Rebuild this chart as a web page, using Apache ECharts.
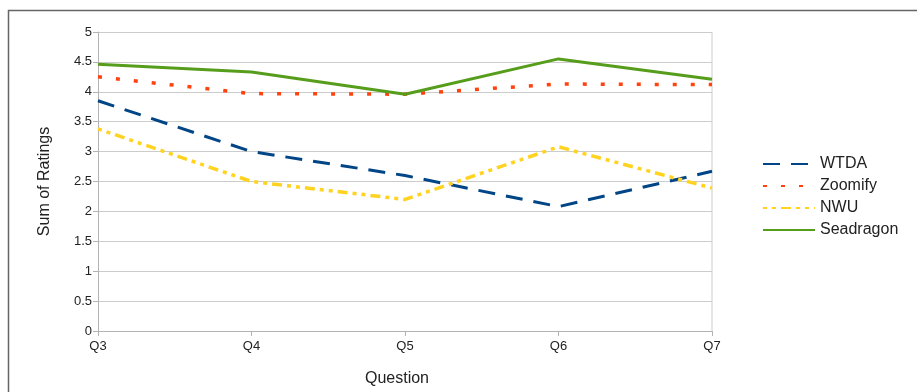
<!DOCTYPE html>
<html lang="en">
<head>
    <meta charset="UTF-8">
    <title>Sum of Ratings</title>
    <style>
        html, body { margin: 0; padding: 0; background: #fff; }
    </style>
</head>
<body>
    <div id="main" style="width: 917px; height: 392px"></div>
    <script src="https://cdn.jsdelivr.net/npm/echarts@6/dist/echarts.min.js"></script>
    <script type="text/javascript">
        var questions = ['Q3', 'Q4', 'Q5', 'Q6', 'Q7'];
        var wtda = [3.85, 3.0, 2.6, 2.08, 2.67];
        var zoomify = [4.25, 3.97, 3.96, 4.13, 4.12];
        var nwu = [3.38, 2.5, 2.2, 3.08, 2.39];
        var seadragon = [4.46, 4.33, 3.96, 4.55, 4.21];
        var yTicks = [0, 0.5, 1, 1.5, 2, 2.5, 3, 3.5, 4, 4.5, 5];

        var font = 'Liberation Sans, Arial, sans-serif';
        var myChart = echarts.init(document.getElementById('main'));

        function line(name, data, color, type, width) {
            return {
                name: name,
                type: 'line',
                data: data,
                symbol: 'none',
                lineStyle: { color: color, width: width, type: type, cap: 'butt' },
                itemStyle: { color: color },
                emphasis: { disabled: true },
                animation: false
            };
        }

        var option = {
            backgroundColor: '#fff',
            graphic: [{
                type: 'rect',
                shape: { x: 8.5, y: 10.5, width: 1000, height: 500 },
                style: { fill: 'none', stroke: '#666', lineWidth: 1.5 },
                silent: true
            }],
            grid: { left: 98, right: 205, top: 32, bottom: 61, outerBoundsMode: 'none' },
            legend: {
                orient: 'vertical',
                left: 762,
                top: 156,
                padding: 0,
                itemWidth: 52,
                itemHeight: 14,
                itemGap: 6,
                itemStyle: { color: 'rgba(0,0,0,0)', borderWidth: 0, opacity: 0 },
                textStyle: { fontFamily: font, fontSize: 16, color: '#222' },
                data: ['WTDA', 'Zoomify', 'NWU', 'Seadragon']
            },
            xAxis: {
                type: 'category',
                boundaryGap: false,
                data: questions,
                name: 'Question',
                nameLocation: 'middle',
                nameGap: 40,
                nameTextStyle: { fontFamily: font, fontSize: 16, color: '#222', padding: [0, 16, 0, 0] },
                axisLine: { lineStyle: { color: '#b3b3b3' } },
                axisTick: { show: true, length: 5, lineStyle: { color: '#b3b3b3' } },
                axisLabel: { fontFamily: font, fontSize: 13, color: '#222', margin: 9 },
                splitLine: { show: false }
            },
            yAxis: {
                type: 'value',
                min: yTicks[0],
                max: yTicks[yTicks.length - 1],
                interval: 0.5,
                name: 'Sum of Ratings',
                nameLocation: 'middle',
                nameGap: 45,
                nameTextStyle: { fontFamily: font, fontSize: 16, color: '#222' },
                axisLine: { show: true, lineStyle: { color: '#b3b3b3' } },
                axisTick: { show: true, length: 5, lineStyle: { color: '#b3b3b3' } },
                axisLabel: { fontFamily: font, fontSize: 13, color: '#222', margin: 6 },
                splitLine: { lineStyle: { color: '#cccccc' } }
            },
            series: [
                line('WTDA', wtda, '#004586', [17, 11], 3),
                line('Zoomify', zoomify, '#ff420e', [4, 14], 3.5),
                line('NWU', nwu, '#ffd320', [4, 5, 4, 5, 10, 5], 3.5),
                line('Seadragon', seadragon, '#579d1c', 'solid', 3)
            ]
        };
        myChart.setOption(option);

        // right edge of plot area
        var p0 = myChart.convertToPixel({ gridIndex: 0 }, ['Q7', 5]);
        var p1 = myChart.convertToPixel({ gridIndex: 0 }, ['Q7', 0]);
        myChart.setOption({
            graphic: [{}, {
                type: 'line',
                shape: { x1: p0[0], y1: p0[1], x2: p1[0], y2: p1[1] },
                style: { stroke: '#cccccc', lineWidth: 1 },
                silent: true
            }]
        });
    </script>
</body>
</html>
